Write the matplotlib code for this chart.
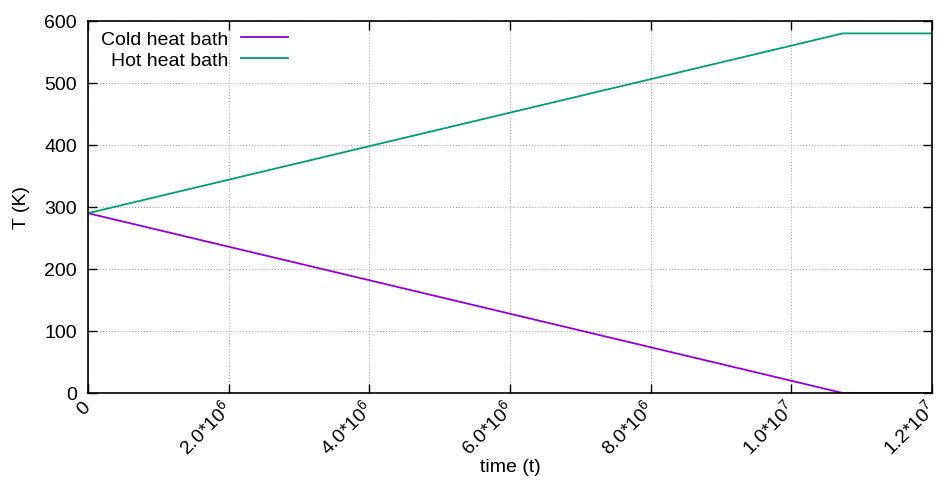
import matplotlib
matplotlib.use("Agg")
import matplotlib.pyplot as plt
from matplotlib.ticker import FixedLocator, FixedFormatter

plt.rcParams['font.family'] = ['Liberation Sans', 'DejaVu Sans']
plt.rcParams['mathtext.fontset'] = 'custom'
plt.rcParams['mathtext.rm'] = 'Liberation Sans'
plt.rcParams['mathtext.it'] = 'Liberation Sans'

# Bath temperatures over time (piecewise linear, then held constant)
time = [0.0, 1.073e7, 1.2e7]
cold_T = [290.0, 0.0, 0.0]
hot_T = [290.0, 580.0, 580.0]

x_ticks = [0, 2e6, 4e6, 6e6, 8e6, 1e7, 1.2e7]
x_tick_labels = ["0", r"2.0*10$^{6}$", r"4.0*10$^{6}$", r"6.0*10$^{6}$",
                 r"8.0*10$^{6}$", r"1.0*10$^{7}$", r"1.2*10$^{7}$"]
y_ticks = [0, 100, 200, 300, 400, 500, 600]

FS = 14

fig = plt.figure(figsize=(9.38, 4.81), dpi=100)
ax = fig.add_axes([88 / 938, 1 - 394 / 481, (932 - 88) / 938, (394 - 22) / 481])

ax.plot(time, cold_T, color="#9400D3", lw=1.3, label="Cold heat bath")
ax.plot(time, hot_T, color="#009E73", lw=1.3, label="Hot heat bath")

ax.set_xlim(0, 1.2e7)
ax.set_ylim(0, 600)
ax.xaxis.set_major_locator(FixedLocator(x_ticks))
ax.xaxis.set_major_formatter(FixedFormatter(x_tick_labels))
ax.set_yticks(y_ticks)
ax.tick_params(direction="in", length=6.5, width=1, top=True, right=True,
               labelsize=FS)
ax.tick_params(axis="y", pad=8)
ax.tick_params(axis="x", pad=8)
for lbl in ax.get_xticklabels():
    lbl.set_rotation(45)
    lbl.set_ha("right")
    lbl.set_va("center")
    lbl.set_rotation_mode("anchor")

ax.grid(True, color="#a0a0a0", linestyle=(0, (1, 2)), lw=0.7)
for s in ax.spines.values():
    s.set_linewidth(1.2)

ax.set_xlabel("time (t)", fontsize=FS, labelpad=0)
ax.set_ylabel("T (K)", fontsize=FS, labelpad=10)

ax.legend(loc="upper right", bbox_to_anchor=(288 / 938, 1 - 31 / 481),
          bbox_transform=fig.transFigure, frameon=False,
          markerfirst=False, fontsize=FS, handlelength=2.4,
          handletextpad=0.65, labelspacing=0.2, borderpad=0, borderaxespad=0)

fig.savefig("out.png", dpi=100)
